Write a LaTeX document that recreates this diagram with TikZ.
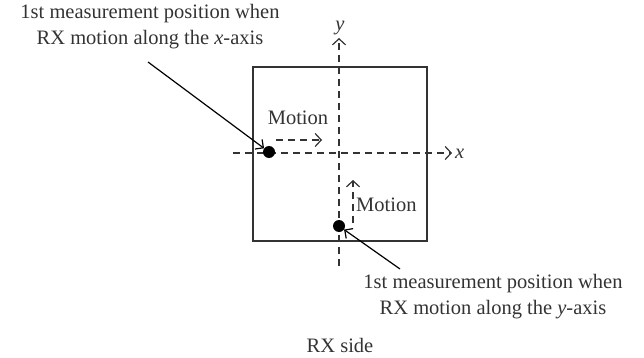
\documentclass[tikz,border=0pt]{standalone}
\usepackage{fontspec}
\setmainfont{Liberation Serif}
\usetikzlibrary{arrows.meta}
\begin{document}
\begin{tikzpicture}[x=1pt,y=-1pt,
  lbl/.style={font=\fontsize{20.5}{26}\selectfont, text=black!80, inner sep=0pt, align=center},
  axis/.style={dashed, dash pattern=on 7pt off 5pt, line width=1.2pt, draw=black!80, -{Straight Barb[length=6pt,width=13pt]}},
  lead/.style={line width=1.2pt, -{Straight Barb[length=6pt,width=12pt]}},
  dotst/.style={circle, fill=black, inner sep=0pt, minimum size=12pt}]
\useasboundingbox (0,0) rectangle (644,358);
\node[draw=black!80, line width=1.3pt, minimum width=174pt, minimum height=174pt, inner sep=0pt] (box) at (340,154) {};
\coordinate (xs) at (233,153);
\coordinate (xe) at (452,153);
\coordinate (ys) at (339,266);
\coordinate (ye) at (339,38);
\draw[axis] (xs) -- (xe);
\draw[axis] (ys) -- (ye);
\node[lbl, anchor=west, font=\fontsize{20.5}{26}\selectfont\itshape] (xl) at (455,154) {x};
\node[lbl, font=\fontsize{20.5}{26}\selectfont\itshape] (yl) at (340,28) {y};
\node[dotst] (d1) at (269,152) {};
\node[dotst] (d2) at (339,226) {};
\coordinate (m1s) at (276,140);
\coordinate (m1e) at (322,140);
\draw[axis] (m1s) -- (m1e);
\node[lbl] (mot1) at (298,118) {Motion};
\coordinate (m2s) at (353,223);
\coordinate (m2e) at (353,180);
\draw[axis] (m2s) -- (m2e);
\node[lbl, anchor=west] (mot2) at (356,205) {Motion};
\node[lbl] (t1) at (150,27) {1st measurement position when\\RX motion along the \textit{x}-axis};
\node[lbl] (t2) at (493,297) {1st measurement position when\\RX motion along the \textit{y}-axis};
\coordinate (l1s) at (148,62);
\coordinate (l2s) at (400,269);
\draw[lead] (l1s) -- (d1);
\draw[lead] (l2s) -- (d2);
\node[lbl] (rx) at (340,345) {RX side};
\end{tikzpicture}
\end{document}
